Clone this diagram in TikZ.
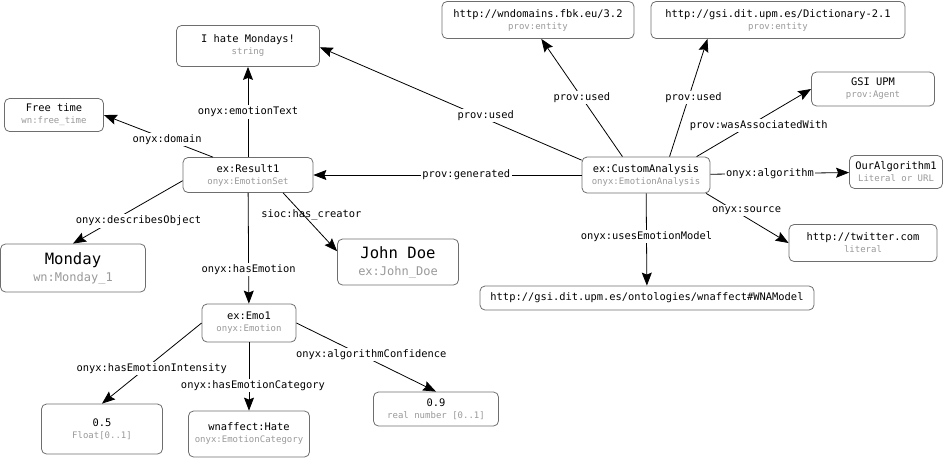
\documentclass[tikz,border=0pt]{standalone}
\usepackage{fontspec}
\setmonofont{DejaVu Sans Mono}
\usetikzlibrary{arrows.meta}
\definecolor{boxline}{HTML}{6E6E6E}
\definecolor{subtext}{HTML}{999999}
\def\rdf#1#2{#1\\{\fontsize{9}{12}\selectfont\color{subtext}#2}}
\def\bigrdf#1#2{#1\\{\fontsize{12}{17}\selectfont\color{subtext}#2}}
\tikzset{
	res/.style={draw=boxline, line width=0.8pt, rounded corners=5pt, inner sep=0pt, align=center, font=\ttfamily\fontsize{10.4}{12}\selectfont},
	bigres/.style={res, font=\ttfamily\fontsize{15.6}{17}\selectfont},
	rel/.style={-{Stealth[length=13pt,width=10pt,inset=2pt]}, line width=0.8pt},
	lbl/.style={fill=white, inner sep=1.5pt, font=\ttfamily\fontsize{10.4}{12}\selectfont}
}

\begin{document}
\begin{tikzpicture}[x=1pt, y=-1pt]
			%%%%% START %%%%%
			\useasboundingbox (0, 0) rectangle (952, 458);
			
			\node[res, minimum width=143, minimum height=41] (hate) at (248, 46) {\rdf{I hate Mondays!}{string}};
			\node[res, minimum width=99, minimum height=33] (free) at (54, 115) {\rdf{Free time}{wn:free\_time}};
			\node[res, minimum width=130, minimum height=35] (r1) at (248, 175) {\rdf{ex:Result1}{onyx:EmotionSet}};
			\node[bigres, minimum width=145, minimum height=48] (monday) at (73, 268) {\bigrdf{Monday}{wn:Monday\_1}};
			\node[bigres, minimum width=121, minimum height=46] (john) at (398, 262) {\bigrdf{John Doe}{ex:John\_Doe}};
			\node[res, minimum width=94, minimum height=38] (emo) at (249, 323) {\rdf{ex:Emo1}{onyx:Emotion}};
			\node[res, minimum width=121, minimum height=50] (f05) at (102, 429) {\rdf{0.5}{Float[0..1]}};
			\node[res, minimum width=121, minimum height=46] (cat) at (249, 434) {\rdf{wnaffect:Hate}{onyx:EmotionCategory}};
			\node[res, minimum width=125, minimum height=34] (conf) at (436, 409) {\rdf{0.9}{real number [0..1]}};
			
			\node[res, minimum width=192, minimum height=37] (wnd) at (538, 20) {\rdf{http://wndomains.fbk.eu/3.2}{prov:entity}};
			\node[res, minimum width=254, minimum height=37] (dict) at (778, 20) {\rdf{http://gsi.dit.upm.es/Dictionary-2.1}{prov:entity}};
			\node[res, minimum width=123, minimum height=34] (gsi) at (873, 89) {\rdf{GSI UPM}{prov:Agent}};
			\node[res, minimum width=128, minimum height=36] (ca) at (646, 175) {\rdf{ex:CustomAnalysis}{onyx:EmotionAnalysis}};
			\node[res, minimum width=93, minimum height=33] (alg) at (896, 172) {\rdf{OurAlgorithm1}{Literal or URL}};
			\node[res, minimum width=148, minimum height=37] (twitter) at (863, 243) {\rdf{http://twitter.com}{literal}};
			\node[res, minimum width=334, minimum height=24] (wna) at (647, 298) {http://gsi.dit.upm.es/ontologies/wnaffect\#WNAModel};
			
			% result
			\draw[rel] (r1) -- node[lbl] {onyx:emotionText} (hate);
			\draw[rel] (r1.153) -- node[lbl, pos=.42] {onyx:domain} (free.east);
			\draw[rel] (r1.185) -- node[lbl, pos=.64, xshift=26pt] {onyx:describesObject} (monday.north);
			\draw[rel] (r1.-27) -- node[lbl, fill=none, pos=.375, xshift=8pt] {sioc:has\_creator} (john.170);
			\draw[rel] (r1) -- node[lbl, pos=.695] {onyx:hasEmotion} (emo);
			
			% analysis
			\draw[rel] (ca) -- node[lbl, pos=.43] {prov:generated} (r1);
			\draw[rel] (ca.167) -- node[lbl, pos=.366, yshift=3pt] {prov:used} (hate.-1);
			\draw[rel] (ca.142) -- node[lbl] {prov:used} (wnd.280);
			\draw[rel] (ca.38) -- node[lbl, xshift=5pt] {prov:used} (dict.195);
			\draw[rel] (ca.20) -- node[lbl, pos=.456, xshift=10pt] {prov:wasAssociatedWith} (gsi.west);
			\draw[rel] (ca) -- node[lbl, pos=.43] {onyx:algorithm} (alg);
			\draw[rel] (ca.-17) -- node[lbl, pos=.49, yshift=7pt] {onyx:source} (twitter.west);
			\draw[rel] (ca) -- node[lbl, pos=.47] {onyx:usesEmotionModel} (wna);
			
			% emotion
			\draw[rel] (emo.west) -- node[lbl, pos=.57, xshift=7pt] {onyx:hasEmotionIntensity} (f05.north);
			\draw[rel] (emo) -- node[lbl, pos=.63, xshift=4pt] {onyx:hasEmotionCategory} (cat);
			\draw[rel] (emo.east) -- node[lbl, pos=.536, yshift=5pt] {onyx:algorithmConfidence} (conf.north);
			%%%%% END %%%%%
\end{tikzpicture}
\end{document}
